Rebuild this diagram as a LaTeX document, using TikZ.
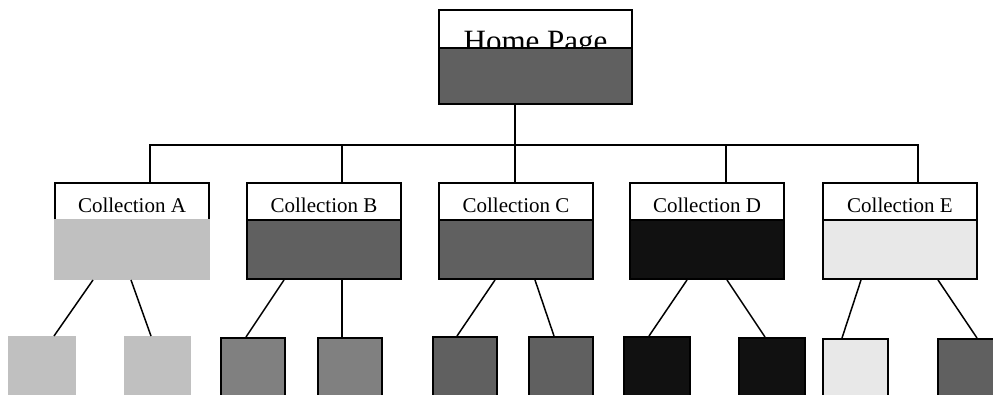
\documentclass[tikz,border=0pt]{standalone}
\usepackage{fontspec}
\setmainfont{Liberation Serif}
\usetikzlibrary{calc}
\definecolor{shadeA}{HTML}{C0C0C0}
\definecolor{shadeB}{HTML}{808080}
\definecolor{shadeC}{HTML}{606060}
\definecolor{shadeD}{HTML}{111111}
\definecolor{shadeE}{HTML}{E8E8E8}
\begin{document}
\begin{tikzpicture}[x=1pt,y=-1pt,
  box/.style={draw=black,line width=2pt,rectangle,inner sep=0pt,anchor=north west},
  head/.style={box,fill=white,minimum width=154pt,minimum height=37pt,
    font=\fontsize{21}{21}\selectfont,text height=23pt,text depth=0pt},
  body/.style={box,minimum width=154pt,minimum height=59pt},
  leaf/.style={box,minimum height=66pt},
  link/.style={line width=1.5pt}]
\useasboundingbox (0,0) rectangle (993,395);
\clip (0,0) rectangle (993,395);

% home page
\node[box,fill=white,minimum width=193pt,minimum height=38pt,
  font=\fontsize{31}{31}\selectfont] (home) at (438,9)
  {\raisebox{-23pt}[0pt][0pt]{Home Page}};
\node[box,fill=shadeC,minimum width=193pt,minimum height=56pt] (homebody) at (438,47) {};

% collections
\node[head] (hA) at (54,182) {Collection A};
\node[body,fill=shadeA,draw=shadeA] (bA) at (54,219) {};
\node[head] (hB) at (246,182) {Collection B};
\node[body,fill=shadeC] (bB) at (246,219) {};
\node[head] (hC) at (438,182) {Collection C};
\node[body,fill=shadeC] (bC) at (438,219) {};
\node[head] (hD) at (629,182) {Collection D};
\node[body,fill=shadeD] (bD) at (629,219) {};
\node[head] (hE) at (822,182) {Collection E};
\node[body,fill=shadeE] (bE) at (822,219) {};

% pages
\node[leaf,fill=shadeA,draw=shadeA,minimum width=66pt] (lA1) at (8,336) {};
\node[leaf,fill=shadeA,draw=shadeA,minimum width=65pt] (lA2) at (124,336) {};
\node[leaf,fill=shadeB,minimum width=64pt] (lB1) at (220,337) {};
\node[leaf,fill=shadeB,minimum width=64pt] (lB2) at (317,337) {};
\node[leaf,fill=shadeC,minimum width=64pt] (lC1) at (432,336) {};
\node[leaf,fill=shadeC,minimum width=64pt] (lC2) at (528,336) {};
\node[leaf,fill=shadeD,minimum width=66pt] (lD1) at (623,336) {};
\node[leaf,fill=shadeD,minimum width=66pt] (lD2) at (738,337) {};
\node[leaf,fill=shadeE,minimum width=65pt] (lE1) at (822,338) {};
\node[leaf,fill=shadeC,minimum width=66pt] (lE2) at (937,338) {};

% tree from the home page to the collections
\coordinate (hub) at (515,145);
\draw[link] ($(homebody.south west)+(77,0)$) -- (hub);
\draw[link] ($(hA.north west)+(96,0)$) |- (hub);
\draw[link] ($(hB.north west)+(96,0)$) |- (hub);
\draw[link] ($(hC.north west)+(77,0)$) -- (hub);
\draw[link] ($(hD.north west)+(97,0)$) |- (hub);
\draw[link] ($(hE.north west)+(96,0)$) |- (hub);

% collections to their pages
\draw[link] ($(bA.south west)+(39,0)$) -- ($(lA1.north west)+(46,0)$);
\draw[link] ($(bA.south west)+(77,0)$) -- ($(lA2.north west)+(27,0)$);
\draw[link] ($(bB.south west)+(38,0)$) -- ($(lB1.north west)+(26,0)$);
\draw[link] ($(bB.south west)+(96,0)$) -- ($(lB2.north west)+(25,0)$);
\draw[link] ($(bC.south west)+(57,0)$) -- ($(lC1.north west)+(25,0)$);
\draw[link] ($(bC.south west)+(97,0)$) -- ($(lC2.north west)+(26,0)$);
\draw[link] ($(bD.south west)+(58,0)$) -- ($(lD1.north west)+(26,0)$);
\draw[link] ($(bD.south west)+(98,0)$) -- ($(lD2.north west)+(27,0)$);
\draw[link] ($(bE.south west)+(39,0)$) -- ($(lE1.north west)+(20,0)$);
\draw[link] ($(bE.south west)+(116,0)$) -- ($(lE2.north west)+(40,0)$);
\end{tikzpicture}
\end{document}
